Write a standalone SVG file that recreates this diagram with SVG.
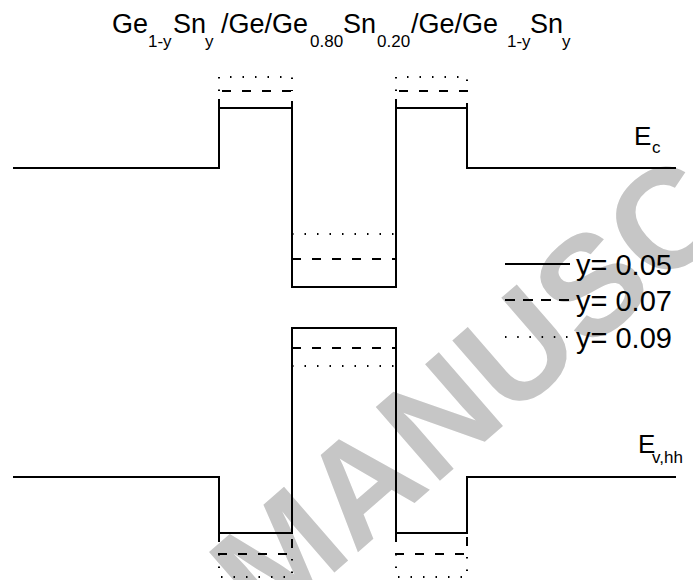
<svg xmlns="http://www.w3.org/2000/svg" width="693" height="580" viewBox="0 0 693 580">
<style>
.t{font-family:"Liberation Sans",Arial,sans-serif;fill:#000}
.s{stroke:#000;stroke-width:2;fill:none}
.d{stroke:#000;stroke-width:2;fill:none;stroke-dasharray:9 11}
.o{stroke:#000;stroke-width:2;fill:none;stroke-dasharray:1.5 11}
.wm{font-family:"Liberation Sans",Arial,sans-serif;font-weight:bold;fill:#c6c6c6}
</style>
<rect width="693" height="580" fill="#fff"/>
<text class="wm" font-size="142" transform="translate(266,632) rotate(-41)">MANUSC</text>
<g id="title">
<text class="t" font-size="27" y="33"><tspan x="112">Ge</tspan><tspan x="148" y="47" font-size="17">1-y</tspan><tspan x="173" y="33">Sn</tspan><tspan x="205" y="47" font-size="17">y</tspan><tspan x="221" y="33">/Ge/Ge</tspan><tspan x="310" y="47" font-size="17">0.80</tspan><tspan x="343" y="33">Sn</tspan><tspan x="377" y="47" font-size="17">0.20</tspan><tspan x="411" y="33">/Ge/Ge</tspan><tspan x="507" y="47" font-size="17">1-y</tspan><tspan x="530" y="33">Sn</tspan><tspan x="562" y="47" font-size="17">y</tspan></text>
</g>
<g id="connectors">
<g id="conduction-band">
<polyline class="s" points="13,168 219,168 219,108 292,108 292,287 396,287 396,108 467,108 467,168 676,168"/>
<path class="d" d="M219,108 V91 H292 V108 M292,259 H396 M396,108 V91 H467 V108"/>
<path class="o" d="M219,91 V77 H292 V91 M292,234 H396 M396,91 V77 H467 V91"/>
</g>
<g id="valence-band">
<polyline class="s" points="13,477 219,477 219,533 292,533 292,328 396,328 396,533 467,533 467,477 676,477"/>
<path class="d" d="M219,533 V554 H292 V533 M292,348 H396 M396,533 V554 H467 V533"/>
<path class="o" d="M219,554 V577 H292 V554 M292,366 H396 M396,554 V577 H467 V554"/>
</g>
</g>
<g id="label-ec">
<text class="t" font-size="26" x="634" y="145">E<tspan x="652" y="153" font-size="17">c</tspan></text>
</g>
<g id="label-ev">
<text class="t" font-size="26" x="638" y="453">E<tspan x="652" y="463" font-size="17">v,hh</tspan></text>
</g>
<g id="legend">
<line class="s" x1="505" y1="264" x2="570" y2="264"/>
<line x1="505" y1="300" x2="572" y2="300" stroke="#000" stroke-width="2" stroke-dasharray="10 8"/>
<line x1="505" y1="337" x2="572" y2="337" stroke="#000" stroke-width="2" stroke-dasharray="1.5 10.7"/>
<text class="t" font-size="29" x="576" y="275">y= 0.05</text>
<text class="t" font-size="29" x="576" y="311">y= 0.07</text>
<text class="t" font-size="29" x="576" y="348">y= 0.09</text>
</g>
</svg>
